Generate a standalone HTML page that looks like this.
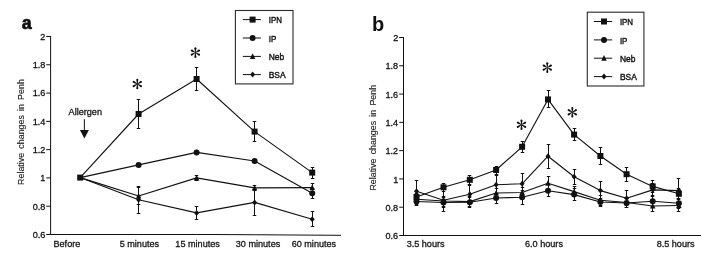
<!DOCTYPE html>
<html><head><meta charset="utf-8"><title>Figure</title>
<style>
html,body{margin:0;padding:0;background:#fff;}
body{width:701px;height:263px;overflow:hidden;}
svg{display:block;filter:grayscale(1);}
text{font-family:"Liberation Sans",sans-serif;font-size:9.1px;fill:#111;stroke:#111;stroke-width:0.28px;}
.yl{font-size:8.9px;word-spacing:1.7px;stroke-width:0.12px;fill:#1c1c1c;}
.pa{font-family:"Liberation Mono",monospace;font-weight:bold;font-size:17.8px;stroke-width:0.7px;}
.pb{font-family:"Liberation Sans",sans-serif;font-weight:bold;font-size:20px;stroke:none;}
.st{font-family:"Liberation Serif",serif;font-size:23px;stroke-width:0.45px;}
</style></head><body>
<svg width="701" height="263" viewBox="0 0 701 263">
<rect width="701" height="263" fill="#fff"/>
<text transform="translate(21.6 28.5) scale(1.0 1.0)" class="pa">a</text>
<path d="M50.6 36.0V234.5" fill="none" stroke="#111" stroke-width="1"/>
<path d="M50.1 234.5L215 234.5L341 235.3" fill="none" stroke="#111" stroke-width="1"/>
<text x="45.3" y="39.90" text-anchor="end">2</text>
<text x="45.3" y="68.19" text-anchor="end">1.8</text>
<text x="45.3" y="96.47" text-anchor="end">1.6</text>
<text x="45.3" y="124.76" text-anchor="end">1.4</text>
<text x="45.3" y="153.04" text-anchor="end">1.2</text>
<text x="45.3" y="181.33" text-anchor="end">1</text>
<text x="45.3" y="209.61" text-anchor="end">0.8</text>
<text x="45.3" y="237.90" text-anchor="end">0.6</text>
<path d="M46.2 36.50H50.6M46.2 64.79H50.6M46.2 93.07H50.6M46.2 121.36H50.6M46.2 149.64H50.6M46.2 177.93H50.6M46.2 206.21H50.6M46.2 234.50H50.6" stroke="#111" stroke-width="1" fill="none"/>
<text transform="translate(23.9 184.9) rotate(-90)" class="yl">Relative changes in Penh</text>
<text x="66.9" y="246.8" text-anchor="middle">Before</text>
<text x="139.4" y="246.8" text-anchor="middle">5 minutes</text>
<text x="197.6" y="246.8" text-anchor="middle">15 minutes</text>
<text x="258.0" y="246.8" text-anchor="middle">30 minutes</text>
<text x="313.9" y="246.8" text-anchor="middle">60 minutes</text>
<text x="85.3" y="114.8" text-anchor="middle">Allergen</text>
<path d="M84.4 119.2V131" stroke="#111" stroke-width="1"/><path d="M79.9 129.9H88.9L84.4 138.6Z" fill="#111"/>
<polyline points="80.20,177.60 138.60,199.80 196.60,212.90 254.60,202.40 312.20,219.20" fill="none" stroke="#111" stroke-width="1.12" stroke-linejoin="round"/>
<path d="M138.5 186.0V214.0M136.75 186.5H140.25M136.75 213.5H140.25M196.5 206.0V220.0M194.75 206.5H198.25M194.75 219.5H198.25M254.5 189.0V216.0M252.75 189.5H256.25M252.75 215.5H256.25M312.5 211.0V227.0M310.75 211.5H314.25M310.75 226.5H314.25" fill="none" stroke="#111" stroke-width="1"/>
<g fill="#111"><path d="M138.60 196.80L141.10 199.80L138.60 202.80L136.10 199.80Z"/><path d="M196.60 209.90L199.10 212.90L196.60 215.90L194.10 212.90Z"/><path d="M254.60 199.40L257.10 202.40L254.60 205.40L252.10 202.40Z"/><path d="M312.20 216.20L314.70 219.20L312.20 222.20L309.70 219.20Z"/></g>
<polyline points="80.20,177.60 138.60,196.00 196.60,177.90 254.60,187.90 312.20,187.60" fill="none" stroke="#111" stroke-width="1.12" stroke-linejoin="round"/>
<path d="M138.5 187.0V205.0M136.75 187.5H140.25M136.75 204.5H140.25M196.5 175.0V181.0M194.75 175.5H198.25M194.75 180.5H198.25M254.5 185.0V191.0M252.75 185.5H256.25M252.75 190.5H256.25M312.5 183.0V192.0M310.75 183.5H314.25M310.75 191.5H314.25" fill="none" stroke="#111" stroke-width="1"/>
<g fill="#111"><path d="M138.60 192.90L141.35 198.50L135.85 198.50Z"/><path d="M196.60 174.80L199.35 180.40L193.85 180.40Z"/><path d="M254.60 184.80L257.35 190.40L251.85 190.40Z"/><path d="M312.20 184.50L314.95 190.10L309.45 190.10Z"/></g>
<polyline points="80.20,177.60 138.60,164.90 196.60,152.40 254.60,161.00 312.20,193.30" fill="none" stroke="#111" stroke-width="1.12" stroke-linejoin="round"/>
<path d="M138.5 163.0V167.0M136.75 163.5H140.25M136.75 166.5H140.25M196.5 150.0V154.0M194.75 150.5H198.25M194.75 153.5H198.25M254.5 159.0V163.0M252.75 159.5H256.25M252.75 162.5H256.25M312.5 188.0V199.0M310.75 188.5H314.25M310.75 198.5H314.25" fill="none" stroke="#111" stroke-width="1"/>
<g fill="#111"><circle cx="138.60" cy="164.90" r="3.0"/><circle cx="196.60" cy="152.40" r="3.0"/><circle cx="254.60" cy="161.00" r="3.0"/><circle cx="312.20" cy="193.30" r="3.0"/></g>
<polyline points="80.20,177.60 138.60,114.00 196.60,79.00 254.60,131.60 312.20,172.60" fill="none" stroke="#111" stroke-width="1.12" stroke-linejoin="round"/>
<path d="M138.5 99.0V129.0M136.75 99.5H140.25M136.75 128.5H140.25M196.5 67.0V91.0M194.75 67.5H198.25M194.75 90.5H198.25M254.5 121.0V142.0M252.75 121.5H256.25M252.75 141.5H256.25M312.5 167.0V179.0M310.75 167.5H314.25M310.75 178.5H314.25" fill="none" stroke="#111" stroke-width="1"/>
<g fill="#111"><rect x="77.20" y="174.60" width="6.0" height="6.0"/><rect x="135.60" y="111.00" width="6.0" height="6.0"/><rect x="193.60" y="76.00" width="6.0" height="6.0"/><rect x="251.60" y="128.60" width="6.0" height="6.0"/><rect x="309.20" y="169.60" width="6.0" height="6.0"/></g>
<rect x="235.4" y="10.5" width="57.60" height="73.40" fill="#fff" stroke="#2a2a2a" stroke-width="1.1"/>
<path d="M242.8 19.6H260.9" stroke="#111" stroke-width="1"/>
<g fill="#111"><rect x="249.60" y="16.60" width="6.0" height="6.0"/></g>
<text x="268.7" y="23.25" textLength="13.2" lengthAdjust="spacingAndGlyphs" style="font-size:8.9px;stroke-width:0.4px">IPN</text>
<path d="M242.8 38.0H260.9" stroke="#111" stroke-width="1"/>
<g fill="#111"><circle cx="252.60" cy="38.00" r="3.0"/></g>
<text x="268.7" y="41.65" textLength="7.5" lengthAdjust="spacingAndGlyphs" style="font-size:8.9px;stroke-width:0.4px">IP</text>
<path d="M242.8 56.4H260.9" stroke="#111" stroke-width="1"/>
<g fill="#111"><path d="M252.60 53.30L255.35 58.90L249.85 58.90Z"/></g>
<text x="268.7" y="60.05" textLength="15.5" lengthAdjust="spacingAndGlyphs" style="font-size:8.9px;stroke-width:0.4px">Neb</text>
<path d="M242.8 74.6H260.9" stroke="#111" stroke-width="1"/>
<g fill="#111"><path d="M252.60 71.60L255.10 74.60L252.60 77.60L250.10 74.60Z"/></g>
<text x="268.7" y="78.25" textLength="16.9" lengthAdjust="spacingAndGlyphs" style="font-size:8.9px;stroke-width:0.4px">BSA</text>
<g transform="translate(137.3 84.0)" fill="#111"><path transform="rotate(0)" d="M-0.25 0L-1.05 -4.30A1.05 1.05 0 0 1 1.05 -4.30L0.25 0Z"/><path transform="rotate(-180)" d="M-0.25 0L-1.05 -4.30A1.05 1.05 0 0 1 1.05 -4.30L0.25 0Z"/><path transform="rotate(60)" d="M-0.25 0L-1.05 -4.20A1.05 1.05 0 0 1 1.05 -4.20L0.25 0Z"/><path transform="rotate(-60)" d="M-0.25 0L-1.05 -4.20A1.05 1.05 0 0 1 1.05 -4.20L0.25 0Z"/><path transform="rotate(-120)" d="M-0.25 0L-1.05 -4.20A1.05 1.05 0 0 1 1.05 -4.20L0.25 0Z"/><path transform="rotate(-240)" d="M-0.25 0L-1.05 -4.20A1.05 1.05 0 0 1 1.05 -4.20L0.25 0Z"/></g>
<g transform="translate(195.4 52.6)" fill="#111"><path transform="rotate(0)" d="M-0.25 0L-1.05 -4.30A1.05 1.05 0 0 1 1.05 -4.30L0.25 0Z"/><path transform="rotate(-180)" d="M-0.25 0L-1.05 -4.30A1.05 1.05 0 0 1 1.05 -4.30L0.25 0Z"/><path transform="rotate(60)" d="M-0.25 0L-1.05 -4.20A1.05 1.05 0 0 1 1.05 -4.20L0.25 0Z"/><path transform="rotate(-60)" d="M-0.25 0L-1.05 -4.20A1.05 1.05 0 0 1 1.05 -4.20L0.25 0Z"/><path transform="rotate(-120)" d="M-0.25 0L-1.05 -4.20A1.05 1.05 0 0 1 1.05 -4.20L0.25 0Z"/><path transform="rotate(-240)" d="M-0.25 0L-1.05 -4.20A1.05 1.05 0 0 1 1.05 -4.20L0.25 0Z"/></g>
<text x="372.1" y="30.8" class="pb">b</text>
<path d="M403.5 37.0V235.5" fill="none" stroke="#111" stroke-width="1"/>
<path d="M403 235.5H701" fill="none" stroke="#111" stroke-width="1"/>
<text x="398.2" y="41.20" text-anchor="end">2</text>
<text x="398.2" y="69.49" text-anchor="end">1.8</text>
<text x="398.2" y="97.77" text-anchor="end">1.6</text>
<text x="398.2" y="126.06" text-anchor="end">1.4</text>
<text x="398.2" y="154.34" text-anchor="end">1.2</text>
<text x="398.2" y="182.63" text-anchor="end">1</text>
<text x="398.2" y="210.91" text-anchor="end">0.8</text>
<text x="398.2" y="239.20" text-anchor="end">0.6</text>
<path d="M399.2 37.50H403.5M399.2 65.79H403.5M399.2 94.07H403.5M399.2 122.36H403.5M399.2 150.64H403.5M399.2 178.93H403.5M399.2 207.21H403.5M399.2 235.50H403.5" stroke="#111" stroke-width="1" fill="none"/>
<text transform="translate(376.0 190.6) rotate(-90)" class="yl">Relative changes in Penh</text>
<text x="425.6" y="246.8" text-anchor="middle">3.5 hours</text>
<text x="544" y="246.8" text-anchor="middle">6.0 hours</text>
<text x="675.6" y="246.8" text-anchor="middle">8.5 hours</text>
<polyline points="416.50,201.50 443.50,202.50 469.80,202.20 496.10,198.00 522.10,197.30 548.00,190.80 574.10,194.60 600.40,202.00 626.60,203.00 652.70,201.30 678.90,203.20" fill="none" stroke="#111" stroke-width="1.12" stroke-linejoin="round"/>
<path d="M416.5 197.0V206.0M414.75 197.5H418.25M414.75 205.5H418.25M443.5 197.0V208.0M441.75 197.5H445.25M441.75 207.5H445.25M469.5 197.0V208.0M467.75 197.5H471.25M467.75 207.5H471.25M496.5 193.0V204.0M494.75 193.5H498.25M494.75 203.5H498.25M522.5 190.0V205.0M520.75 190.5H524.25M520.75 204.5H524.25M548.5 184.0V197.0M546.75 184.5H550.25M546.75 196.5H550.25M574.5 188.0V201.0M572.75 188.5H576.25M572.75 200.5H576.25M600.5 198.0V207.0M598.75 198.5H602.25M598.75 206.5H602.25M626.5 198.0V208.0M624.75 198.5H628.25M624.75 207.5H628.25M652.5 196.0V207.0M650.75 196.5H654.25M650.75 206.5H654.25M678.5 198.0V209.0M676.75 198.5H680.25M676.75 208.5H680.25" fill="none" stroke="#111" stroke-width="1"/>
<g fill="#111"><circle cx="416.50" cy="201.50" r="3.0"/><circle cx="443.50" cy="202.50" r="3.0"/><circle cx="469.80" cy="202.20" r="3.0"/><circle cx="496.10" cy="198.00" r="3.0"/><circle cx="522.10" cy="197.30" r="3.0"/><circle cx="548.00" cy="190.80" r="3.0"/><circle cx="574.10" cy="194.60" r="3.0"/><circle cx="600.40" cy="202.00" r="3.0"/><circle cx="626.60" cy="203.00" r="3.0"/><circle cx="652.70" cy="201.30" r="3.0"/><circle cx="678.90" cy="203.20" r="3.0"/></g>
<polyline points="416.50,199.20 443.50,201.00 469.80,201.60 496.10,193.00 522.10,192.50 548.00,183.20 574.10,191.60 600.40,200.30 626.60,202.50 652.70,206.00 678.90,205.50" fill="none" stroke="#111" stroke-width="1.12" stroke-linejoin="round"/>
<path d="M416.5 194.0V205.0M414.75 194.5H418.25M414.75 204.5H418.25M443.5 196.0V207.0M441.75 196.5H445.25M441.75 206.5H445.25M469.5 196.0V207.0M467.75 196.5H471.25M467.75 206.5H471.25M496.5 188.0V199.0M494.75 188.5H498.25M494.75 198.5H498.25M522.5 187.0V198.0M520.75 187.5H524.25M520.75 197.5H524.25M548.5 176.0V190.0M546.75 176.5H550.25M546.75 189.5H550.25M574.5 186.0V197.0M572.75 186.5H576.25M572.75 196.5H576.25M600.5 195.0V206.0M598.75 195.5H602.25M598.75 205.5H602.25M626.5 197.0V208.0M624.75 197.5H628.25M624.75 207.5H628.25M652.5 200.0V212.0M650.75 200.5H654.25M650.75 211.5H654.25M678.5 199.0V212.0M676.75 199.5H680.25M676.75 211.5H680.25" fill="none" stroke="#111" stroke-width="1"/>
<g fill="#111"><path d="M416.50 196.10L419.25 201.70L413.75 201.70Z"/><path d="M443.50 197.90L446.25 203.50L440.75 203.50Z"/><path d="M469.80 198.50L472.55 204.10L467.05 204.10Z"/><path d="M496.10 189.90L498.85 195.50L493.35 195.50Z"/><path d="M522.10 189.40L524.85 195.00L519.35 195.00Z"/><path d="M548.00 180.10L550.75 185.70L545.25 185.70Z"/><path d="M574.10 188.50L576.85 194.10L571.35 194.10Z"/><path d="M600.40 197.20L603.15 202.80L597.65 202.80Z"/><path d="M626.60 199.40L629.35 205.00L623.85 205.00Z"/><path d="M652.70 202.90L655.45 208.50L649.95 208.50Z"/><path d="M678.90 202.40L681.65 208.00L676.15 208.00Z"/></g>
<polyline points="416.50,191.30 443.50,200.20 469.80,194.30 496.10,184.70 522.10,183.80 548.00,156.20 574.10,176.80 600.40,190.60 626.60,198.30 652.70,189.90 678.90,190.60" fill="none" stroke="#111" stroke-width="1.12" stroke-linejoin="round"/>
<path d="M416.5 180.0V203.0M414.75 180.5H418.25M414.75 202.5H418.25M443.5 189.0V212.0M441.75 189.5H445.25M441.75 211.5H445.25M469.5 185.0V204.0M467.75 185.5H471.25M467.75 203.5H471.25M496.5 175.0V194.0M494.75 175.5H498.25M494.75 193.5H498.25M522.5 173.0V195.0M520.75 173.5H524.25M520.75 194.5H524.25M548.5 144.0V169.0M546.75 144.5H550.25M546.75 168.5H550.25M574.5 169.0V185.0M572.75 169.5H576.25M572.75 184.5H576.25M600.5 181.0V201.0M598.75 181.5H602.25M598.75 200.5H602.25M626.5 190.0V206.0M624.75 190.5H628.25M624.75 205.5H628.25M652.5 183.0V196.0M650.75 183.5H654.25M650.75 195.5H654.25M678.5 178.0V203.0M676.75 178.5H680.25M676.75 202.5H680.25" fill="none" stroke="#111" stroke-width="1"/>
<g fill="#111"><path d="M416.50 188.30L419.00 191.30L416.50 194.30L414.00 191.30Z"/><path d="M443.50 197.20L446.00 200.20L443.50 203.20L441.00 200.20Z"/><path d="M469.80 191.30L472.30 194.30L469.80 197.30L467.30 194.30Z"/><path d="M496.10 181.70L498.60 184.70L496.10 187.70L493.60 184.70Z"/><path d="M522.10 180.80L524.60 183.80L522.10 186.80L519.60 183.80Z"/><path d="M548.00 153.20L550.50 156.20L548.00 159.20L545.50 156.20Z"/><path d="M574.10 173.80L576.60 176.80L574.10 179.80L571.60 176.80Z"/><path d="M600.40 187.60L602.90 190.60L600.40 193.60L597.90 190.60Z"/><path d="M626.60 195.30L629.10 198.30L626.60 201.30L624.10 198.30Z"/><path d="M652.70 186.90L655.20 189.90L652.70 192.90L650.20 189.90Z"/><path d="M678.90 187.60L681.40 190.60L678.90 193.60L676.40 190.60Z"/></g>
<polyline points="416.50,197.00 443.50,187.30 469.80,179.80 496.10,170.00 522.10,146.80 548.00,99.40 574.10,134.60 600.40,156.00 626.60,174.20 652.70,186.40 678.90,193.80" fill="none" stroke="#111" stroke-width="1.12" stroke-linejoin="round"/>
<path d="M416.5 193.0V202.0M414.75 193.5H418.25M414.75 201.5H418.25M443.5 183.0V192.0M441.75 183.5H445.25M441.75 191.5H445.25M469.5 175.0V185.0M467.75 175.5H471.25M467.75 184.5H471.25M496.5 166.0V175.0M494.75 166.5H498.25M494.75 174.5H498.25M522.5 141.0V153.0M520.75 141.5H524.25M520.75 152.5H524.25M548.5 90.0V108.0M546.75 90.5H550.25M546.75 107.5H550.25M574.5 128.0V141.0M572.75 128.5H576.25M572.75 140.5H576.25M600.5 147.0V165.0M598.75 147.5H602.25M598.75 164.5H602.25M626.5 167.0V182.0M624.75 167.5H628.25M624.75 181.5H628.25M652.5 180.0V193.0M650.75 180.5H654.25M650.75 192.5H654.25M678.5 188.0V199.0M676.75 188.5H680.25M676.75 198.5H680.25" fill="none" stroke="#111" stroke-width="1"/>
<g fill="#111"><rect x="413.50" y="194.00" width="6.0" height="6.0"/><rect x="440.50" y="184.30" width="6.0" height="6.0"/><rect x="466.80" y="176.80" width="6.0" height="6.0"/><rect x="493.10" y="167.00" width="6.0" height="6.0"/><rect x="519.10" y="143.80" width="6.0" height="6.0"/><rect x="545.00" y="96.40" width="6.0" height="6.0"/><rect x="571.10" y="131.60" width="6.0" height="6.0"/><rect x="597.40" y="153.00" width="6.0" height="6.0"/><rect x="623.60" y="171.20" width="6.0" height="6.0"/><rect x="649.70" y="183.40" width="6.0" height="6.0"/><rect x="675.90" y="190.80" width="6.0" height="6.0"/></g>
<rect x="587.3" y="12.2" width="56.60" height="73.80" fill="#fff" stroke="#2a2a2a" stroke-width="1.1"/>
<path d="M593.9 21.5H612.2" stroke="#111" stroke-width="1"/>
<g fill="#111"><rect x="601.00" y="18.50" width="6.0" height="6.0"/></g>
<text x="619.9" y="25.15" textLength="13.2" lengthAdjust="spacingAndGlyphs" style="font-size:8.9px;stroke-width:0.4px">IPN</text>
<path d="M593.9 39.9H612.2" stroke="#111" stroke-width="1"/>
<g fill="#111"><circle cx="604.00" cy="39.90" r="3.0"/></g>
<text x="619.9" y="43.55" textLength="7.5" lengthAdjust="spacingAndGlyphs" style="font-size:8.9px;stroke-width:0.4px">IP</text>
<path d="M593.9 58.2H612.2" stroke="#111" stroke-width="1"/>
<g fill="#111"><path d="M604.00 55.10L606.75 60.70L601.25 60.70Z"/></g>
<text x="619.9" y="61.85" textLength="15.5" lengthAdjust="spacingAndGlyphs" style="font-size:8.9px;stroke-width:0.4px">Neb</text>
<path d="M593.9 76.6H612.2" stroke="#111" stroke-width="1"/>
<g fill="#111"><path d="M604.00 73.60L606.50 76.60L604.00 79.60L601.50 76.60Z"/></g>
<text x="619.9" y="80.25" textLength="16.9" lengthAdjust="spacingAndGlyphs" style="font-size:8.9px;stroke-width:0.4px">BSA</text>
<g transform="translate(521.5 124.75)" fill="#111"><path transform="rotate(0)" d="M-0.25 0L-1.05 -4.30A1.05 1.05 0 0 1 1.05 -4.30L0.25 0Z"/><path transform="rotate(-180)" d="M-0.25 0L-1.05 -4.30A1.05 1.05 0 0 1 1.05 -4.30L0.25 0Z"/><path transform="rotate(60)" d="M-0.25 0L-1.05 -4.20A1.05 1.05 0 0 1 1.05 -4.20L0.25 0Z"/><path transform="rotate(-60)" d="M-0.25 0L-1.05 -4.20A1.05 1.05 0 0 1 1.05 -4.20L0.25 0Z"/><path transform="rotate(-120)" d="M-0.25 0L-1.05 -4.20A1.05 1.05 0 0 1 1.05 -4.20L0.25 0Z"/><path transform="rotate(-240)" d="M-0.25 0L-1.05 -4.20A1.05 1.05 0 0 1 1.05 -4.20L0.25 0Z"/></g>
<g transform="translate(547.3 67.6)" fill="#111"><path transform="rotate(0)" d="M-0.25 0L-1.05 -4.30A1.05 1.05 0 0 1 1.05 -4.30L0.25 0Z"/><path transform="rotate(-180)" d="M-0.25 0L-1.05 -4.30A1.05 1.05 0 0 1 1.05 -4.30L0.25 0Z"/><path transform="rotate(60)" d="M-0.25 0L-1.05 -4.20A1.05 1.05 0 0 1 1.05 -4.20L0.25 0Z"/><path transform="rotate(-60)" d="M-0.25 0L-1.05 -4.20A1.05 1.05 0 0 1 1.05 -4.20L0.25 0Z"/><path transform="rotate(-120)" d="M-0.25 0L-1.05 -4.20A1.05 1.05 0 0 1 1.05 -4.20L0.25 0Z"/><path transform="rotate(-240)" d="M-0.25 0L-1.05 -4.20A1.05 1.05 0 0 1 1.05 -4.20L0.25 0Z"/></g>
<g transform="translate(572.3 112.25)" fill="#111"><path transform="rotate(0)" d="M-0.25 0L-1.05 -4.30A1.05 1.05 0 0 1 1.05 -4.30L0.25 0Z"/><path transform="rotate(-180)" d="M-0.25 0L-1.05 -4.30A1.05 1.05 0 0 1 1.05 -4.30L0.25 0Z"/><path transform="rotate(60)" d="M-0.25 0L-1.05 -4.20A1.05 1.05 0 0 1 1.05 -4.20L0.25 0Z"/><path transform="rotate(-60)" d="M-0.25 0L-1.05 -4.20A1.05 1.05 0 0 1 1.05 -4.20L0.25 0Z"/><path transform="rotate(-120)" d="M-0.25 0L-1.05 -4.20A1.05 1.05 0 0 1 1.05 -4.20L0.25 0Z"/><path transform="rotate(-240)" d="M-0.25 0L-1.05 -4.20A1.05 1.05 0 0 1 1.05 -4.20L0.25 0Z"/></g>
</svg>
</body></html>
